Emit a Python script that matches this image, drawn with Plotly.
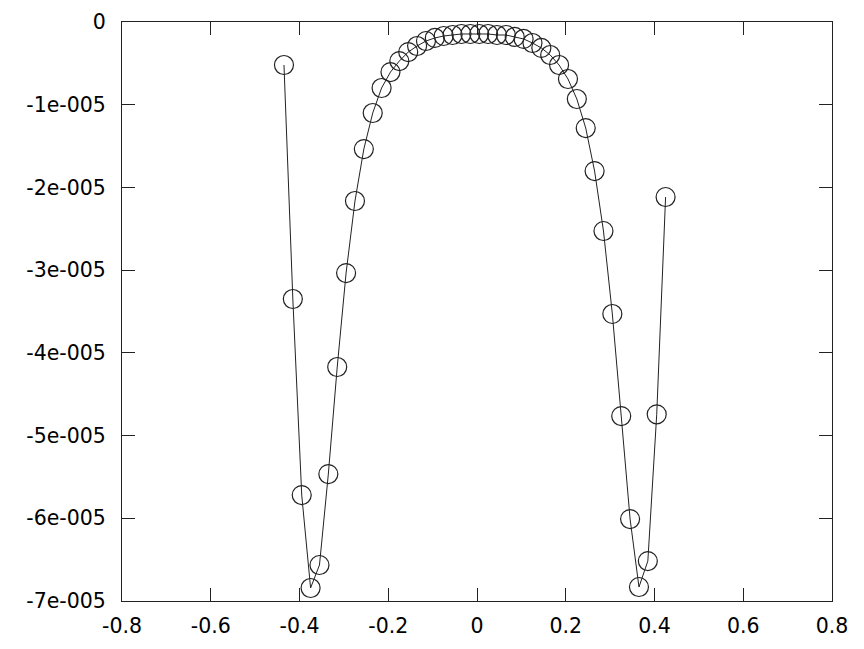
import plotly.graph_objects as go

# x positions: step 0.02 starting at -0.435
x_values = [-0.435, -0.415, -0.395, -0.375, -0.355, -0.335, -0.315, -0.295, -0.275, -0.255,
            -0.235, -0.215, -0.195, -0.175, -0.155, -0.135, -0.115, -0.095, -0.075, -0.055,
            -0.035, -0.015, 0.005, 0.025, 0.045, 0.065, 0.085, 0.105, 0.125, 0.145,
            0.165, 0.185, 0.205, 0.225, 0.245, 0.265, 0.285, 0.305, 0.325, 0.345,
            0.365, 0.385, 0.405, 0.425]

y_values = [-0.520e-5, -3.349e-5, -5.719e-5, -6.843e-5, -6.565e-5, -5.465e-5, -4.171e-5, -3.035e-5,
            -2.164e-5, -1.536e-5, -1.100e-5, -0.798e-5, -0.605e-5, -0.472e-5, -0.363e-5, -0.290e-5,
            -0.230e-5, -0.193e-5, -0.169e-5, -0.157e-5, -0.145e-5, -0.145e-5, -0.145e-5, -0.145e-5,
            -0.157e-5, -0.157e-5, -0.181e-5, -0.205e-5, -0.254e-5, -0.314e-5, -0.399e-5, -0.520e-5,
            -0.689e-5, -0.931e-5, -1.282e-5, -1.802e-5, -2.527e-5, -3.530e-5, -4.764e-5, -6.009e-5,
            -6.831e-5, -6.517e-5, -4.743e-5, -2.116e-5]

x_tick_vals = [-0.8, -0.6, -0.4, -0.2, 0, 0.2, 0.4, 0.6, 0.8]
x_tick_text = ["-0.8", "-0.6", "-0.4", "-0.2", "0", "0.2", "0.4", "0.6", "0.8"]
y_tick_vals = [0, -1e-5, -2e-5, -3e-5, -4e-5, -5e-5, -6e-5, -7e-5]
y_tick_text = ["0", "-1e-005", "-2e-005", "-3e-005", "-4e-005", "-5e-005", "-6e-005", "-7e-005"]

fig = go.Figure()
fig.add_trace(go.Scatter(
    x=x_values, y=y_values, mode="lines+markers",
    line=dict(color="#222222", width=1),
    marker=dict(symbol="circle-open", size=19, color="#222222", line=dict(width=1.2)),
    showlegend=False,
    cliponaxis=False,
))

axis_common = dict(
    showline=True, linecolor="#222222", linewidth=1, mirror="ticks",
    ticks="inside", ticklen=13, tickwidth=1, tickcolor="#222222",
    showgrid=False, zeroline=False, automargin=False,
    tickfont=dict(family="DejaVu Sans", size=20.5, color="#000000"),
)

fig.update_xaxes(range=[-0.8, 0.8], tickvals=x_tick_vals, ticktext=x_tick_text,
                 ticklabelstandoff=6, **axis_common)
fig.update_yaxes(range=[-7e-5, 0], tickvals=y_tick_vals, ticktext=y_tick_text,
                 ticklabelstandoff=11, **axis_common)

# page body has an 8px margin, so the figure is offset by 8px
fig.update_layout(
    width=856, height=641,
    margin=dict(l=114, r=32, t=14, b=48),
    paper_bgcolor="white", plot_bgcolor="white",
)

fig.write_html("out.html")
